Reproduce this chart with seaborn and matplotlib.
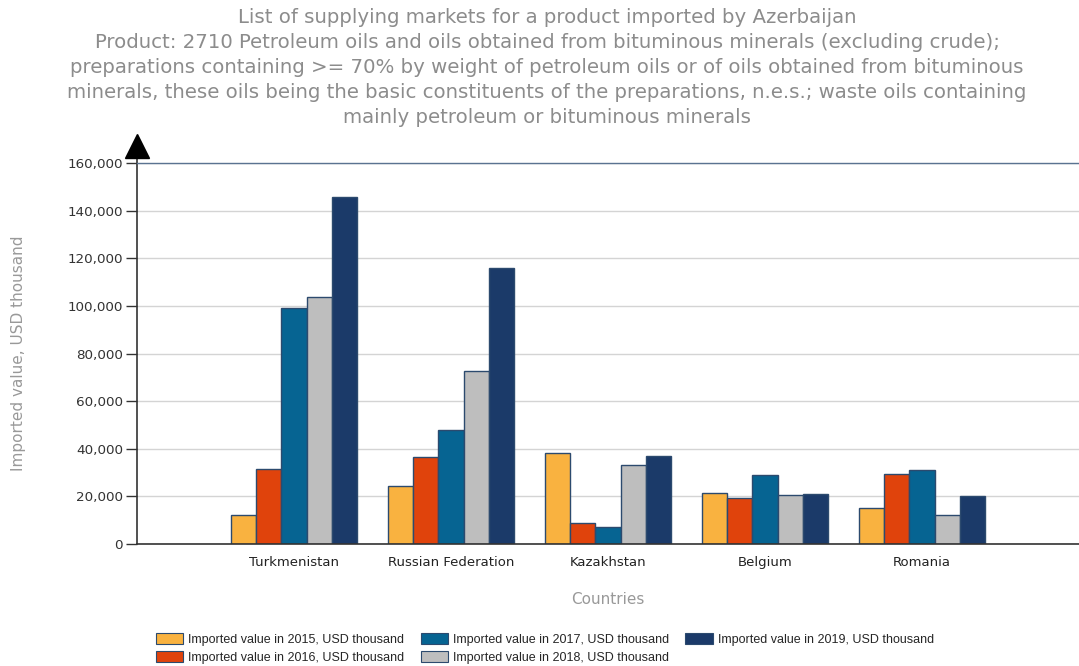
import pandas as pd
import seaborn as sns
import matplotlib.pyplot as plt
from matplotlib.ticker import FuncFormatter

# values, USD thousand
countries = ["Turkmenistan", "Russian Federation", "Kazakhstan", "Belgium", "Romania"]
v2015 = [12300, 24200, 38400, 21600, 15000]
v2016 = [31700, 36700, 8800, 19500, 29600]
v2017 = [99000, 47800, 7000, 29100, 31000]
v2018 = [103900, 72600, 33000, 20500, 12300]
v2019 = [145600, 116100, 37000, 21200, 20200]
series_names = ["Imported value in 2015, USD thousand",
                "Imported value in 2016, USD thousand",
                "Imported value in 2017, USD thousand",
                "Imported value in 2018, USD thousand",
                "Imported value in 2019, USD thousand"]
colors = ["#F9B240", "#E0430C", "#066492", "#BEBEBE", "#1B3A69"]

rows = []
for name, vals in zip(series_names, [v2015, v2016, v2017, v2018, v2019]):
    for c, v in zip(countries, vals):
        rows.append({"Country": c, "Series": name, "Value": v})
df = pd.DataFrame(rows)

sns.set_style("white")
plt.rcParams["font.family"] = ["DejaVu Sans"]

fig = plt.figure(figsize=(10.79, 6.66), dpi=100)
ax = fig.add_axes([137 / 1079, 122 / 666, 942 / 1079, 381 / 666])

sns.barplot(data=df, x="Country", y="Value", hue="Series", palette=colors,
            saturation=1, edgecolor="#2c4a6e", linewidth=1, width=0.8,
            ax=ax, legend=False)

ax.set_xlim(-1, 5)
ax.set_ylim(0, 160000)
ax.set_yticks(range(0, 160001, 20000))
ax.yaxis.set_major_formatter(FuncFormatter(lambda v, p: f"{int(v):,}"))
ax.grid(axis="y", color="#d4d4d4", linewidth=1)
ax.set_axisbelow(True)

ax.spines["right"].set_visible(False)
ax.spines["left"].set_visible(False)
ax.spines["top"].set_color("#5a7391")
ax.spines["top"].set_linewidth(1)
ax.spines["bottom"].set_color("#333333")
ax.spines["bottom"].set_linewidth(1.2)

# left axis line with arrow head above the plot
ax.plot([0, 0], [0, 1.03], transform=ax.transAxes, color="#333333",
        linewidth=1.2, clip_on=False)
ax.plot([0], [1.045], transform=ax.transAxes, marker="^", markersize=17,
        color="black", clip_on=False)

ax.tick_params(axis="y", which="both", left=True, length=8, width=1,
               color="#333333", labelsize=9.7, labelcolor="#333333", pad=2)
ax.tick_params(axis="x", bottom=False, labelsize=9.5, labelcolor="#222222", pad=5)

ax.set_xlabel("Countries", color="#999999", fontsize=11, labelpad=17)
ax.set_ylabel("Imported value, USD thousand", color="#999999", fontsize=11, labelpad=30)

title = ("List of supplying markets for a product imported by Azerbaijan\n"
         "Product: 2710 Petroleum oils and oils obtained from bituminous minerals (excluding crude);\n"
         "preparations containing >= 70% by weight of petroleum oils or of oils obtained from bituminous\n"
         "minerals, these oils being the basic constituents of the preparations, n.e.s.; waste oils containing\n"
         "mainly petroleum or bituminous minerals")
fig.text(547 / 1079, 1 - 8 / 666, title, ha="center", va="top", color="#8c8c8c",
         fontsize=14.2, linespacing=1.4, multialignment="center")

handles = [plt.Rectangle((0, 0), 1, 1, facecolor=c, edgecolor="#2c4a6e", linewidth=0.8)
           for c in colors]
fig.legend(handles, series_names, ncol=3, loc="lower left",
           bbox_to_anchor=(150 / 1079, -0.005), frameon=False,
           prop={"family": ["Liberation Sans", "DejaVu Sans"], "size": 9},
           handlelength=2.2, handleheight=0.9, handletextpad=0.4,
           columnspacing=1.3, labelspacing=0.42, borderaxespad=0.05)

fig.savefig("out.png", dpi=100)
